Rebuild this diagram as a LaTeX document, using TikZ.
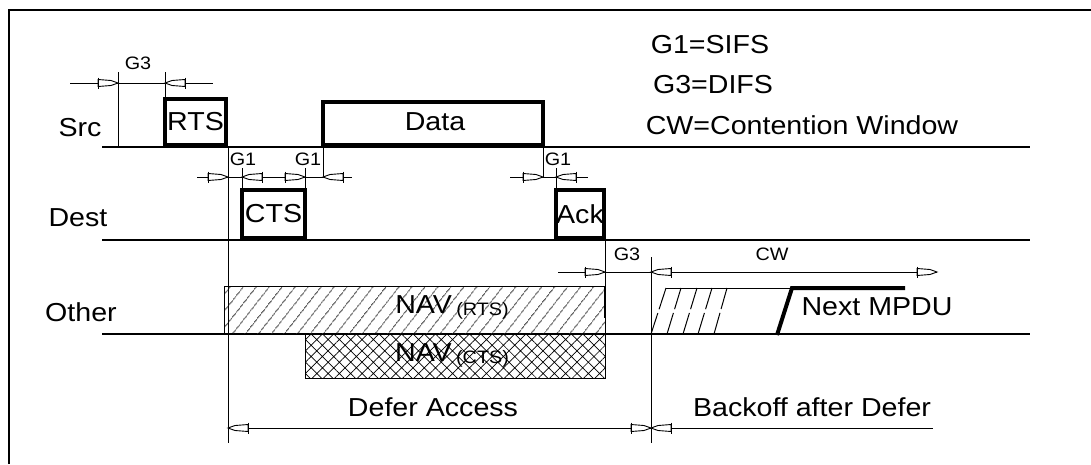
\documentclass[tikz,border=0pt]{standalone}
\usepackage{fontspec}
\setmainfont{Liberation Sans}[FakeStretch=1.1]
\usetikzlibrary{patterns.meta}
\tikzset{
  big/.style={font=\fontsize{26}{29}\selectfont, inner sep=0pt},
  small/.style={font=\fontsize{18}{20}\selectfont, inner sep=0pt},
  framebox/.style={draw, line width=4pt, inner sep=0pt, big},
  baseln/.style={line width=1.5pt},
  thinln/.style={line width=1pt},
  pics/tipR/.style={code={
    \draw[line width=0.9pt, fill=white] (0,0) -- (-7,-2.5) -- (-20,-3.5) -- (-20,3.5) -- (-7,2.5) -- cycle;
    \draw[line width=0.9pt] (-20,-5.5) -- (-20,5.5);}},
  pics/tipL/.style={code={
    \draw[line width=0.9pt, fill=white] (0,0) -- (7,-2.5) -- (20,-3.5) -- (20,3.5) -- (7,2.5) -- cycle;
    \draw[line width=0.9pt] (20,-5.5) -- (20,5.5);}}
}
\begin{document}
\begin{tikzpicture}[x=1pt,y=-1pt]
\useasboundingbox (0,0) rectangle (1091,464);
\draw[line width=2pt] (9,464) -- (9,10) -- (1091,10);

% legend
\node[big] (lg1) at (710,45) {G1=SIFS};
\node[big] (lg3) at (713,85) {G3=DIFS};
\node[big] (lcw) at (802,125) {CW=Contention Window};

% row labels
\node[big] (lsrc) at (80,128) {Src};
\node[big] (ldest) at (78,218) {Dest};
\node[big] (loth) at (81,312) {Other};

% baselines
\coordinate (s0) at (102,147); \coordinate (s1) at (1030,147);
\coordinate (d0) at (102,240); \coordinate (d1) at (1030,240);
\coordinate (o0) at (102,334); \coordinate (o1) at (1030,334);
\draw[baseln] (s0) -- (s1);
\draw[baseln] (d0) -- (d1);
\draw[baseln] (o0) -- (o1);

% NAV boxes
\node[draw, thinln, inner sep=0pt, anchor=north west, minimum width=381, minimum height=48,
      pattern={Lines[angle=52, distance=10.5pt, line width=0.7pt]}] (navr) at (224,286) {};
\node[draw, thinln, inner sep=0pt, anchor=north west, minimum width=300, minimum height=44,
      pattern={Hatch[angle=45, distance=8pt, line width=0.7pt]}] (navc) at (305,334) {};
\draw[line width=2pt] (605,286) -- (605,318);
\node[big] (navrt) at (452,307) {NAV\,\raisebox{-2pt}{\fontsize{18}{20}\selectfont(RTS)}};
\node[big] (navct) at (452,355) {NAV\,\raisebox{-2pt}{\fontsize{18}{20}\selectfont(CTS)}};

% frames
\node[framebox, anchor=south west, minimum width=61, minimum height=46] (rts) at (163,147) {RTS};
\node[framebox, anchor=south west, minimum width=220, minimum height=43] (data) at (321,147) {};
\node[big] (datat) at (435,122) {Data};
\node[framebox, anchor=south west, minimum width=63, minimum height=48] (cts) at (240,240) {CTS};
\node[framebox, anchor=south west, minimum width=48, minimum height=48] (ack) at (554,240) {Ack};

% vertical ticks
\draw[thinln] (118,72) -- (118,147);
\draw[thinln] (165,72) -- (165,99);
\draw[thinln] (228,147) -- (228,443);
\draw[thinln] (242,168) -- (242,190);
\draw[thinln] (305,168) -- (305,190);
\draw[thinln] (323,147) -- (323,177);
\draw[thinln] (543,147) -- (543,177);
\draw[thinln] (556,168) -- (556,190);
\draw[thinln] (605,240) -- (605,286);
\draw[thinln] (651,257) -- (651,443);

% G3 top
\coordinate (g3a) at (70,83); \coordinate (g3b) at (213,83);
\draw[thinln] (g3a) -- (g3b);
\pic at (118,83) {tipR};
\pic at (165,83) {tipL};
\node[small] (g3t) at (138,63) {G3};

% G1 row
\coordinate (g1a) at (197,177); \coordinate (g1b) at (352,177);
\draw[thinln] (g1a) -- (g1b);
\pic at (228,177) {tipR};
\pic at (242,177) {tipL};
\pic at (305,177) {tipR};
\pic at (323,177) {tipL};
\node[small] (g1t1) at (243,159) {G1};
\node[small] (g1t2) at (308,159) {G1};

\coordinate (g1c) at (510,177); \coordinate (g1d) at (588,177);
\draw[thinln] (g1c) -- (g1d);
\pic at (543,177) {tipR};
\pic at (556,177) {tipL};
\node[small] (g1t3) at (558,159) {G1};

% G3 / CW row
\coordinate (cwa) at (558,272); \coordinate (cwb) at (937,272);
\draw[thinln] (cwa) -- (cwb);
\pic at (605,272) {tipR};
\pic at (651,272) {tipL};
\pic at (937,272) {tipR};
\node[small] (g3t2) at (627,254) {G3};
\node[small] (cwt) at (772,254) {CW};

% backoff slashes
\draw[thinln] (666,288) -- (792,288);
\foreach \a/\b in {651/666, 667/681, 683/697, 698/712, 714/727}
  \draw[thinln, dash pattern=on 22pt off 4pt on 30pt] (\a,334) -- (\b,288);
\draw[line width=4pt] (777,335) -- (792,288) -- (905,288);
\node[big] (mpdu) at (877,307) {Next MPDU};

% bottom dims
\coordinate (da) at (228,428); \coordinate (db) at (933,428);
\draw[thinln] (da) -- (db);
\pic at (228,428) {tipL};
\pic at (651,428) {tipR};
\pic at (651,428) {tipL};
\node[big] (defer) at (433,407) {Defer Access};
\node[big] (backoff) at (812,407) {Backoff after Defer};
\end{tikzpicture}
\end{document}
